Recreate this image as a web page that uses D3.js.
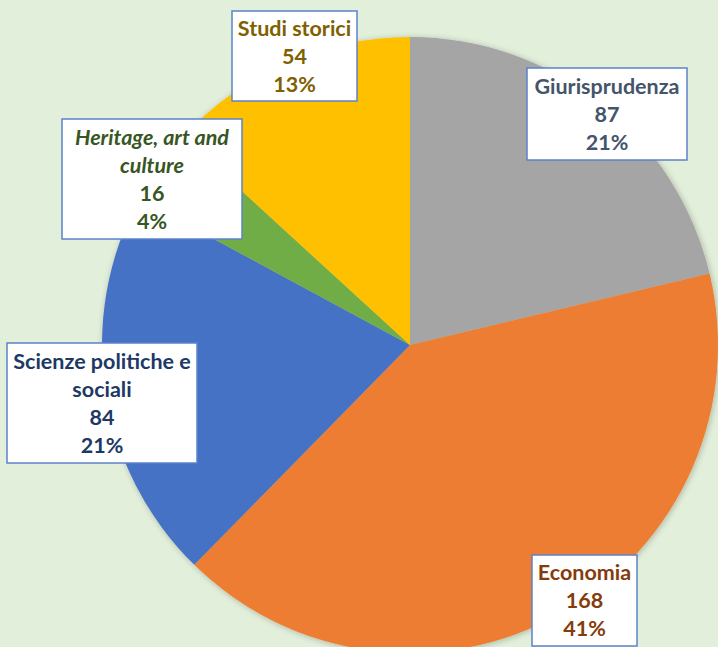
<!DOCTYPE html>
<html><head><meta charset="utf-8">
<script src="https://cdn.jsdelivr.net/npm/d3@7"></script>
<style>
html,body{margin:0;padding:0;background:#E2EFDA;}
svg{display:block;}
</style></head>
<body>
<svg id="chart" width="718" height="647"></svg>
<script>
const categories = ["Giurisprudenza", "Economia", "Scienze politiche e sociali", "Heritage, art and culture", "Studi storici"];
const values = [87, 168, 84, 16, 54];
const percentLabels = ["21%", "41%", "21%", "4%", "13%"];
const labelLines = [["Giurisprudenza"], ["Economia"], ["Scienze politiche e", "sociali"], ["Heritage, art and", "culture"], ["Studi storici"]];

const sliceColors = ["#A5A5A5", "#ED7D31", "#4472C4", "#70AD47", "#FFC000"];
const textColors = ["#44546A", "#843C0C", "#203864", "#375623", "#7F6000"];
const italic = [false, false, false, true, false];
// label box layout [x, y, w, h]
const boxes = [[527, 68, 160, 92], [532, 555, 105, 91], [7, 343, 190, 120], [62, 119, 180, 120], [232, 11, 125, 90]];

const svg = d3.select("#chart");
const cx = 410, cy = 345, r = 308;

const pie = d3.pie().sort(null).value(d => d)(values);
const arc = d3.arc().innerRadius(0).outerRadius(r);

const defs = svg.append("defs");
const f = defs.append("filter").attr("id", "sh").attr("x", "-10%").attr("y", "-10%").attr("width", "120%").attr("height", "120%");
f.append("feGaussianBlur").attr("in", "SourceAlpha").attr("stdDeviation", 3);
f.append("feOffset").attr("dx", 1).attr("dy", 1).attr("result", "b");
f.append("feComponentTransfer").append("feFuncA").attr("type", "linear").attr("slope", 0.25);
const m = f.append("feMerge");
m.append("feMergeNode");
m.append("feMergeNode").attr("in", "SourceGraphic");

const g = svg.append("g").attr("transform", `translate(${cx},${cy})`).attr("filter", "url(#sh)");
g.selectAll("path").data(pie).join("path")
  .attr("d", arc)
  .attr("fill", (d, i) => sliceColors[i]);

const lineH = 28;
const lg = svg.append("g");
categories.forEach((c, i) => {
  const [bx, by, bw, bh] = boxes[i];
  const grp = lg.append("g");
  grp.append("rect").attr("x", bx).attr("y", by).attr("width", bw).attr("height", bh)
    .attr("fill", "#fff").attr("stroke", "#5B83C9").attr("stroke-width", 1.5);
  const lines = labelLines[i].map(t => ({t, it: italic[i]}))
    .concat([{t: String(values[i]), it: false}, {t: percentLabels[i], it: false}]);
  const n = lines.length;
  const midY = by + bh / 2;
  lines.forEach((l, k) => {
    const yc = midY + (k - (n - 1) / 2) * lineH;
    grp.append("text")
      .attr("x", bx + bw / 2).attr("y", yc + 7.5)
      .attr("text-anchor", "middle")
      .attr("font-family", "Lato, 'Open Sans', sans-serif")
      .attr("font-weight", "bold")
      .attr("font-style", l.it ? "italic" : "normal")
      .attr("font-size", 21.5)
      .attr("fill", textColors[i])
      .text(l.t);
  });
});
</script>
</body></html>
